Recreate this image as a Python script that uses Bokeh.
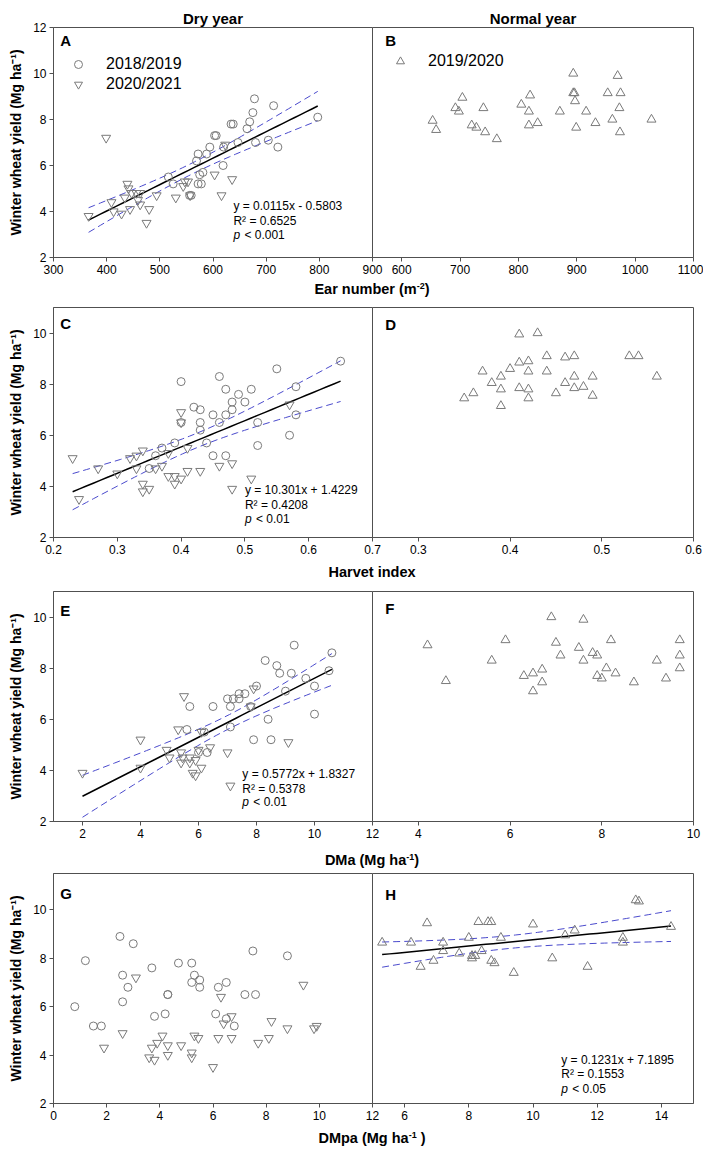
import numpy as np
from bokeh.plotting import figure
from bokeh.models import FixedTicker, Label, Legend, LegendItem, Div, Range1d
from bokeh.layouts import row, column
from bokeh.embed import file_html
from bokeh.resources import INLINE

# ---------------- data ----------------
# Dry years: 2018/2019 (circles) and 2020/2021 (inverted triangles)
ear_1819 = [797, 678, 675, 714, 669, 664, 634, 638, 603, 606, 704, 680, 647, 722, 594, 620, 588, 572, 569, 619,
            516, 581, 575, 572, 578, 525, 559, 556]
yield_1819_ear = [8.1, 8.9, 8.3, 8.6, 7.9, 7.6, 7.8, 7.8, 7.3, 7.3, 7.1, 7.0, 7.0, 6.8, 6.8, 6.8, 6.5, 6.5, 6.2, 6.0,
                  5.5, 5.7, 5.6, 5.2, 5.2, 5.2, 4.7, 4.7]
ear_2021 = [399, 623, 603, 636, 547, 553, 544, 557, 616, 530, 494, 439, 441, 447, 456, 463, 434, 459, 409, 463,
            480, 444, 413, 428, 366, 475]
yield_2021_ear = [7.2, 6.9, 5.6, 5.4, 5.3, 5.3, 5.1, 4.7, 4.7, 4.6, 4.7, 5.2, 5.0, 4.8, 4.8, 4.8, 4.6, 4.5, 4.4, 4.3,
                  4.1, 4.1, 4.0, 3.9, 3.8, 3.5]

hi_1819 = [0.65, 0.55, 0.46, 0.40, 0.47, 0.51, 0.58, 0.49, 0.48, 0.50, 0.42, 0.43, 0.48, 0.45, 0.47, 0.46, 0.58, 0.40,
           0.43, 0.52, 0.43, 0.57, 0.44, 0.39, 0.52, 0.37, 0.36, 0.45, 0.47, 0.35]
yield_1819_hi = [8.9, 8.6, 8.3, 8.1, 7.8, 7.8, 7.9, 7.6, 7.3, 7.3, 7.1, 7.0, 7.0, 6.8, 6.8, 6.5, 6.8, 6.5, 6.5, 6.5,
                 6.2, 6.0, 5.7, 5.7, 5.6, 5.5, 5.2, 5.2, 5.2, 4.7]
hi_2021 = [0.23, 0.27, 0.24, 0.30, 0.32, 0.33, 0.34, 0.33, 0.36, 0.37, 0.34, 0.34, 0.35, 0.38, 0.39, 0.40, 0.39, 0.41,
           0.43, 0.46, 0.48, 0.51, 0.40, 0.40, 0.57, 0.38, 0.41, 0.48]
yield_2021_hi = [5.1, 4.7, 3.5, 4.5, 5.1, 5.2, 5.4, 4.7, 4.7, 4.8, 4.1, 3.8, 3.9, 4.4, 4.4, 4.3, 4.1, 4.6, 4.6, 4.8,
                 4.9, 4.3, 6.9, 6.5, 7.2, 5.3, 5.5, 3.9]

dma_1819 = [9.3, 10.6, 8.3, 8.7, 8.8, 9.2, 9.7, 10.5, 10.0, 9.0, 8.0, 7.4, 7.6, 7.2, 7.4, 7.0, 7.1, 6.5, 5.7, 7.8,
            10.0, 8.4, 7.1, 5.6, 6.2, 7.9, 8.5, 6.0, 6.3]
yield_1819_dma = [8.9, 8.6, 8.3, 8.1, 7.8, 7.8, 7.6, 7.9, 7.3, 7.1, 7.3, 7.0, 7.0, 6.8, 6.8, 6.8, 6.5, 6.5, 6.5, 6.5,
                  6.2, 6.0, 5.7, 5.6, 5.5, 5.2, 5.2, 4.7, 4.7]
dma_2021 = [2.0, 4.0, 4.0, 5.5, 5.3, 4.9, 5.0, 5.4, 5.45, 5.4, 5.7, 5.7, 6.0, 6.4, 5.9, 6.1, 5.8, 5.9, 7.0, 7.1,
            9.1, 7.9, 6.1, 7.8]
yield_2021_dma = [3.9, 5.2, 4.1, 6.9, 5.6, 4.8, 4.5, 4.7, 4.5, 4.3, 4.5, 4.3, 4.8, 4.9, 4.4, 4.1, 3.9, 3.8, 4.7, 3.4,
                  5.1, 7.2, 5.5, 6.5]

dmpa_1819 = [2.5, 3.0, 1.2, 7.5, 8.8, 4.7, 5.2, 3.7, 2.6, 5.3, 5.5, 5.2, 5.5, 2.8, 6.2, 6.5, 4.3, 4.3, 7.2, 7.6,
             2.6, 0.8, 4.2, 3.8, 6.1, 6.5, 6.8, 1.5, 1.8]
yield_1819_dmpa = [8.9, 8.6, 7.9, 8.3, 8.1, 7.8, 7.8, 7.6, 7.3, 7.3, 7.1, 7.0, 6.8, 6.8, 6.8, 7.0, 6.5, 6.5, 6.5, 6.5,
                   6.2, 6.0, 5.7, 5.6, 5.7, 5.5, 5.2, 5.2, 5.2]
dmpa_2021 = [3.1, 9.4, 6.3, 6.7, 6.4, 8.2, 8.8, 9.8, 9.9, 2.6, 1.9, 4.1, 3.9, 3.7, 3.6, 3.8, 4.3, 4.3, 4.8, 5.2,
             5.2, 5.3, 5.45, 6.2, 6.7, 7.7, 8.1, 6.0]
yield_2021_dmpa = [7.2, 6.9, 6.4, 5.6, 5.3, 5.4, 5.1, 5.1, 5.2, 4.9, 4.3, 4.8, 4.5, 4.3, 3.9, 3.8, 4.4, 4.0, 4.4, 4.1,
                   3.9, 4.8, 4.7, 4.7, 4.7, 4.5, 4.7, 3.5]

# Normal year: 2019/2020 (triangles)
ear_1920 = [894, 970, 894, 896, 953, 975, 820, 704, 897, 805, 692, 740, 973, 698, 818, 871, 916, 653, 961, 1028,
            720, 728, 818, 833, 932, 659, 899, 743, 974, 763]
yield_1920_ear = [10.0, 9.9, 9.15, 9.15, 9.15, 9.15, 9.05, 8.95, 8.8, 8.65, 8.5, 8.5, 8.5, 8.35, 8.35, 8.35, 8.35,
                  7.95, 8.0, 8.0, 7.75, 7.65, 7.75, 7.85, 7.85, 7.55, 7.65, 7.45, 7.45, 7.15]
hi_1920 = [0.41, 0.43, 0.44, 0.46, 0.47, 0.53, 0.54, 0.41, 0.42, 0.40, 0.37, 0.42, 0.44, 0.39, 0.47, 0.49, 0.56, 0.38,
           0.46, 0.48, 0.41, 0.47, 0.39, 0.42, 0.36, 0.45, 0.35, 0.42, 0.49, 0.39]
yield_1920_hi = [9.95, 10.0, 9.1, 9.05, 9.1, 9.1, 9.1, 8.85, 8.9, 8.6, 8.5, 8.5, 8.5, 8.3, 8.3, 8.3, 8.3, 8.05, 8.05,
                 7.9, 7.85, 7.85, 7.8, 7.8, 7.65, 7.65, 7.45, 7.45, 7.55, 7.15]
dma_1920 = [6.9, 7.6, 4.2, 5.9, 7.0, 7.5, 8.2, 9.7, 7.8, 7.9, 7.1, 9.7, 5.6, 7.6, 9.2, 6.7, 8.1, 9.7, 6.5, 6.3,
            8.3, 7.9, 8.0, 9.4, 4.6, 6.7, 8.7, 6.5]
yield_1920_dma = [10.0, 9.9, 8.9, 9.1, 9.0, 8.8, 9.1, 9.1, 8.6, 8.5, 8.5, 8.5, 8.3, 8.3, 8.3, 7.95, 8.0, 8.0, 7.8, 7.7,
                  7.8, 7.7, 7.6, 7.6, 7.5, 7.45, 7.45, 7.1]
dmpa_1920 = [13.2, 13.3, 6.7, 8.3, 8.6, 8.7, 10.0, 14.3, 11.3, 11.0, 8.0, 9.0, 12.8, 5.3, 6.2, 7.2, 12.8, 7.2, 8.4,
             7.7, 8.1, 8.2, 8.1, 10.6, 6.9, 8.7, 8.8, 6.5, 11.7, 9.4]
yield_1920_dmpa = [10.4, 10.35, 9.45, 9.5, 9.5, 9.5, 9.4, 9.3, 9.15, 8.95, 8.85, 8.85, 8.85, 8.65, 8.65, 8.65, 8.65,
                   8.3, 8.3, 8.2, 8.1, 8.1, 8.0, 8.0, 7.9, 7.9, 7.8, 7.65, 7.65, 7.4]

# regressions reported on the chart (slope, intercept)
fit_A = (0.0115, -0.5803)
fit_C = (10.301, 1.4229)
fit_E = (0.5772, 1.8327)
eq_A = ["y = 0.0115x - 0.5803", "R\u00b2 = 0.6525", "< 0.001"]
eq_C = ["y = 10.301x + 1.4229", "R\u00b2 = 0.4208", "< 0.01"]
eq_E = ["y = 0.5772x + 1.8327", "R\u00b2 = 0.5378", "< 0.01"]
eq_H = ["y = 0.1231x + 7.1895", "R\u00b2 = 0.1553", "< 0.05"]

# axis ticks
yticks_1 = [2, 4, 6, 8, 10, 12]
yticks_2 = [2, 4, 6, 8, 10]
xticks_A = [300, 400, 500, 600, 700, 800, 900]
xticks_B = [600, 700, 800, 900, 1000, 1100]
xticks_C = [0.2, 0.3, 0.4, 0.5, 0.6, 0.7]
xticks_D = [0.3, 0.4, 0.5, 0.6]
xticks_E = [2, 4, 6, 8, 10, 12]
xticks_F = [4, 6, 8, 10]
xticks_G = [0, 2, 4, 6, 8, 10, 12]
xticks_H = [6, 8, 10, 12, 14]

YLABEL = "Winter wheat yield (Mg ha\u207b\u00b9)"

# ---------------- styling ----------------
FONT = "Liberation Sans"
GREY = "#7a7a7a"
FRAME = "#505050"
BLUE = "#4a4acc"
T95 = 2.0


def base_fig(width, height, xr, yr, left, right, top, bottom, title=None, y_axis=True):
    kw = dict(width=width, height=height, x_range=xr, y_range=yr, output_backend="svg",
              toolbar_location=None, min_border_left=left, min_border_right=right,
              min_border_top=top, min_border_bottom=bottom)
    if not y_axis:
        kw["y_axis_location"] = None
    if title:
        kw["title"] = title
    p = figure(**kw)
    p.grid.visible = False
    p.outline_line_color = FRAME
    p.outline_line_width = 1
    if title:
        p.title.align = "center"
        p.title.text_font = FONT
        p.title.text_font_size = "15px"
        p.title.text_font_style = "bold"
        p.title.text_color = "black"
        p.title.standoff = 2
        p.title.offset = 0
    for ax in p.axis:
        ax.axis_line_color = FRAME
        ax.major_tick_line_color = FRAME
        ax.major_tick_out = 4
        ax.major_tick_in = 0
        ax.minor_tick_line_color = None
        ax.major_label_text_font = FONT
        ax.major_label_text_font_size = "12px"
        ax.major_label_text_color = "black"
        ax.major_label_standoff = 3
        ax.axis_label_text_font = FONT
        ax.axis_label_text_font_size = "14px"
        ax.axis_label_text_font_style = "bold"
        ax.axis_label_text_color = "black"
    return p


def pair(xrL, xrR, yr, xtL, xtR, yt, height, top, bottom, titles=(None, None)):
    L = base_fig(392, height, xrL, yr, 53, 20, top, bottom, title=titles[0])
    R = base_fig(332, height, xrR, yr, 1, 10, top, bottom, title=titles[1], y_axis=False)
    R.border_fill_color = None
    R.margin = (0, 0, 0, -21)
    L.xaxis.ticker = FixedTicker(ticks=xtL)
    R.xaxis.ticker = FixedTicker(ticks=xtR)
    L.yaxis.ticker = FixedTicker(ticks=yt)
    L.yaxis.axis_label = YLABEL
    L.yaxis.axis_label_standoff = 6
    return L, R


def put_text(p, fx, fy, text, size="12px", style="normal", x_offset=0):
    xr, yr = p.x_range, p.y_range
    x = xr.start + fx * (xr.end - xr.start)
    y = yr.start + fy * (yr.end - yr.start)
    p.add_layout(Label(x=x, y=y, text=text, text_font=FONT, text_font_size=size,
                       text_font_style=style, text_baseline="middle", text_align="left",
                       x_offset=x_offset, text_color="black"))


def equation(p, fx, fys, lines):
    put_text(p, fx, fys[0], lines[0])
    put_text(p, fx, fys[1], lines[1])
    put_text(p, fx, fys[2], "p", style="italic")
    put_text(p, fx, fys[2], lines[2], x_offset=11)


def dots(p, x, y, marker, size):
    return p.scatter(x, y, marker=marker, size=size, fill_color=None, line_color=GREY, line_width=1)


def regression(p, xd, yd, slope=None, icpt=None):
    xd = np.asarray(xd, float)
    yd = np.asarray(yd, float)
    if slope is None:
        slope, icpt = np.polyfit(xd, yd, 1)
    n = len(xd)
    xm = xd.mean()
    res = yd - (slope * xd + icpt)
    s = np.sqrt((res ** 2).sum() / (n - 2))
    sxx = ((xd - xm) ** 2).sum()
    xs = np.linspace(xd.min(), xd.max(), 40)
    fit = slope * xs + icpt
    se = s * np.sqrt(1.0 / n + (xs - xm) ** 2 / sxx)
    p.line(xs, fit - T95 * se, line_color=BLUE, line_dash="7 4", line_width=1)
    p.line(xs, fit + T95 * se, line_color=BLUE, line_dash="7 4", line_width=1)
    p.line(xs, fit, line_color="black", line_width=1.5)


def legend(p, items, loc):
    leg = Legend(items=[LegendItem(label=l, renderers=[r]) for l, r in items], location=loc,
                 border_line_color=None, background_fill_alpha=0, padding=0, margin=0, spacing=0,
                 glyph_width=20, glyph_height=20, label_height=20, label_standoff=18,
                 label_text_font=FONT, label_text_font_size="16px", label_text_baseline="middle",
                 label_text_color="black")
    p.add_layout(leg)


def axis_div(html, h, pad, lh):
    body = ('<div style="width:400px;padding-top:%dpx;line-height:%dpx;height:%dpx;text-align:center;'
            'font-family:\'Liberation Sans\',Arial,sans-serif;font-size:14.5px;font-weight:bold;'
            'color:black;white-space:nowrap">%s</div>') % (pad, lh, h - pad, html)
    return Div(text=body, width=400, height=h, margin=(0, 0, 0, 172))


SUP = '<sup style="font-size:9px;vertical-align:5px;line-height:0">%s</sup>'

# ---------------- row 1: ear number ----------------
yr1 = Range1d(2, 12)
A, B = pair(Range1d(300, 900), Range1d(550, 1100), yr1, xticks_A, xticks_B, yticks_1, 280, 27, 23,
            titles=("Dry year", "Normal year"))
regression(A, ear_1819 + ear_2021, yield_1819_ear + yield_2021_ear, *fit_A)
rA1 = dots(A, ear_1819, yield_1819_ear, "circle", 8)
rA2 = dots(A, ear_2021, yield_2021_ear, "inverted_triangle", 9)
legend(A, [("2018/2019", rA1), ("2020/2021", rA2)], (15, 163))
put_text(A, 0.021, 0.942, "A", size="15px", style="bold")
equation(A, 0.564, [0.224, 0.159, 0.098], eq_A)
rB = dots(B, ear_1920, yield_1920_ear, "triangle", 9)
legend(B, [("2019/2020", rB)], (18, 186))
put_text(B, 0.04, 0.942, "B", size="15px", style="bold")

# ---------------- row 2: harvest index ----------------
yr2 = Range1d(2, 11)
C, D = pair(Range1d(0.2, 0.7), Range1d(0.25, 0.6), yr2, xticks_C, xticks_D, yticks_2, 264, 9, 25)
regression(C, hi_1819 + hi_2021, yield_1819_hi + yield_2021_hi, *fit_C)
dots(C, hi_1819, yield_1819_hi, "circle", 8)
dots(C, hi_2021, yield_2021_hi, "inverted_triangle", 9)
put_text(C, 0.021, 0.932, "C", size="15px", style="bold")
equation(C, 0.60, [0.207, 0.142, 0.080], eq_C)
dots(D, hi_1920, yield_1920_hi, "triangle", 9)
put_text(D, 0.04, 0.926, "D", size="15px", style="bold")

# ---------------- row 3: DMa ----------------
yr3 = Range1d(2, 11)
E, F = pair(Range1d(1, 12), Range1d(3, 10), yr3, xticks_E, xticks_F, yticks_2, 264, 9, 25)
regression(E, dma_1819 + dma_2021, yield_1819_dma + yield_2021_dma, *fit_E)
dots(E, dma_1819, yield_1819_dma, "circle", 8)
dots(E, dma_2021, yield_2021_dma, "inverted_triangle", 9)
put_text(E, 0.021, 0.918, "E", size="15px", style="bold")
equation(E, 0.592, [0.206, 0.141, 0.083], eq_E)
dots(F, dma_1920, yield_1920_dma, "triangle", 9)
put_text(F, 0.04, 0.926, "F", size="15px", style="bold")

# ---------------- row 4: DMpa ----------------
yr4 = Range1d(2, 11.5)
G, H = pair(Range1d(0, 12), Range1d(5, 15), yr4, xticks_G, xticks_H, yticks_2, 254, 3, 21)
dots(G, dmpa_1819, yield_1819_dmpa, "circle", 8)
dots(G, dmpa_2021, yield_2021_dmpa, "inverted_triangle", 9)
put_text(G, 0.021, 0.914, "G", size="15px", style="bold")
regression(H, dmpa_1920, yield_1920_dmpa)
dots(H, dmpa_1920, yield_1920_dmpa, "triangle", 9)
put_text(H, 0.04, 0.91, "H", size="15px", style="bold")
equation(H, 0.588, [0.188, 0.127, 0.065], eq_H)

# ---------------- x-axis titles ----------------
d1 = axis_div("Ear number (m" + SUP % "-2" + ")", 18, 1, 16)
d2 = axis_div("Harvet index", 20, 2, 16)
d3 = axis_div("DMa (Mg ha" + SUP % "-1" + ")", 24, 6, 16)
d4 = axis_div("DMpa (Mg ha" + SUP % "-1" + " )", 22, 6, 16)

layout = column(row(A, B), d1, row(C, D), d2, row(E, F), d3, row(G, H), d4)

open("out.html", "w").write(file_html(layout, INLINE))
